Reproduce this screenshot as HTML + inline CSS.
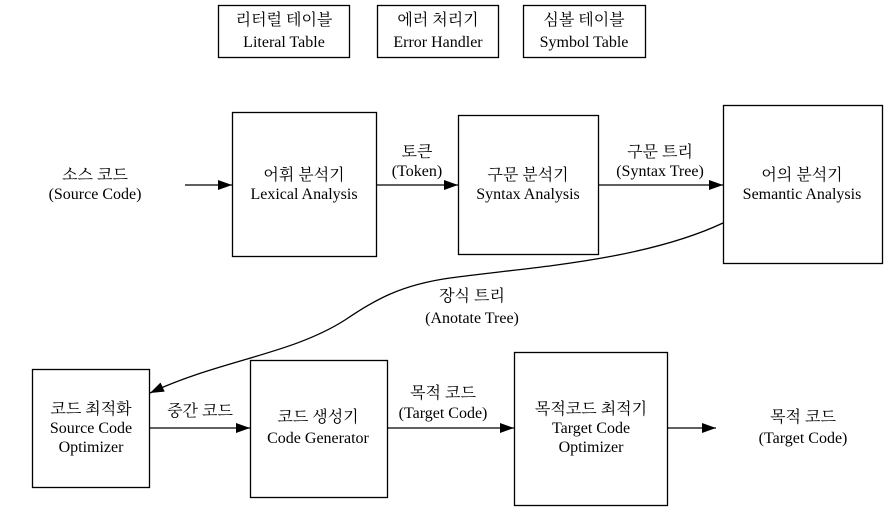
<!DOCTYPE html>
<html><head><meta charset="utf-8"><style>
html,body{margin:0;padding:0;background:#fff;}
svg{display:block;}
text{font-family:"Liberation Serif","Times New Roman","Noto Serif CJK SC","Noto Sans CJK KR",serif;font-size:16px;fill:#000;text-anchor:middle;}
</style></head><body>
<svg width="896" height="511" viewBox="0 0 896 511" xmlns="http://www.w3.org/2000/svg">
<defs><marker id="a" markerWidth="14" markerHeight="10" refX="14" refY="5" orient="auto" markerUnits="userSpaceOnUse"><path d="M0,0 L14,5 L0,10 z" fill="#000"/></marker></defs>
<g fill="none" stroke="#000" stroke-width="1.3">
<rect x="218.5" y="5.5" width="131" height="52"/>
<rect x="377.5" y="5.5" width="121" height="52"/>
<rect x="523.5" y="5.5" width="122" height="52"/>
<rect x="232.5" y="112.5" width="144" height="144"/>
<rect x="458.5" y="115.5" width="140" height="139"/>
<rect x="723.5" y="105.5" width="159" height="158"/>
<rect x="32.5" y="369.5" width="117" height="118"/>
<rect x="250.5" y="360.5" width="137" height="137"/>
<rect x="514.5" y="352.5" width="153" height="153"/>
<line x1="185" y1="185" x2="232" y2="185" marker-end="url(#a)"/>
<line x1="377" y1="185" x2="458" y2="185" marker-end="url(#a)"/>
<line x1="598" y1="185" x2="723" y2="185" marker-end="url(#a)"/>
<path d="M723,223 C640,262 520,268 450,278 C400,285 375,300 345,320 C290,355 220,360 150,393" marker-end="url(#a)"/>
<line x1="150" y1="428" x2="250" y2="428" marker-end="url(#a)"/>
<line x1="387" y1="428" x2="514" y2="428" marker-end="url(#a)"/>
<line x1="668" y1="428" x2="716" y2="428" marker-end="url(#a)"/>
</g>
<text x="284" y="25">리터럴 테이블</text><text x="284" y="47">Literal Table</text>
<text x="438" y="25">에러 처리기</text><text x="438" y="47">Error Handler</text>
<text x="584" y="25">심볼 테이블</text><text x="584" y="47">Symbol Table</text>
<text x="95" y="180">소스 코드</text><text x="95" y="199">(Source Code)</text>
<text x="304" y="180">어휘 분석기</text><text x="304" y="199">Lexical Analysis</text>
<text x="417" y="157">토큰</text><text x="417" y="176">(Token)</text>
<text x="528" y="180">구문 분석기</text><text x="528" y="199">Syntax Analysis</text>
<text x="660" y="157">구문 트리</text><text x="660" y="176">(Syntax Tree)</text>
<text x="802" y="180">어의 분석기</text><text x="802" y="199">Semantic Analysis</text>
<text x="472" y="301">장식 트리</text><text x="472" y="323">(Anotate Tree)</text>
<text x="91" y="414">코드 최적화</text><text x="91" y="433">Source Code</text><text x="91" y="452">Optimizer</text>
<text x="200" y="416">중간 코드</text>
<text x="318" y="422">코드 생성기</text><text x="318" y="443">Code Generator</text>
<text x="443" y="398">목적 코드</text><text x="443" y="418">(Target Code)</text>
<text x="591" y="414">목적코드 최적기</text><text x="591" y="433">Target Code</text><text x="591" y="452">Optimizer</text>
<text x="803" y="422">목적 코드</text><text x="803" y="443">(Target Code)</text>
</svg>
</body></html>
